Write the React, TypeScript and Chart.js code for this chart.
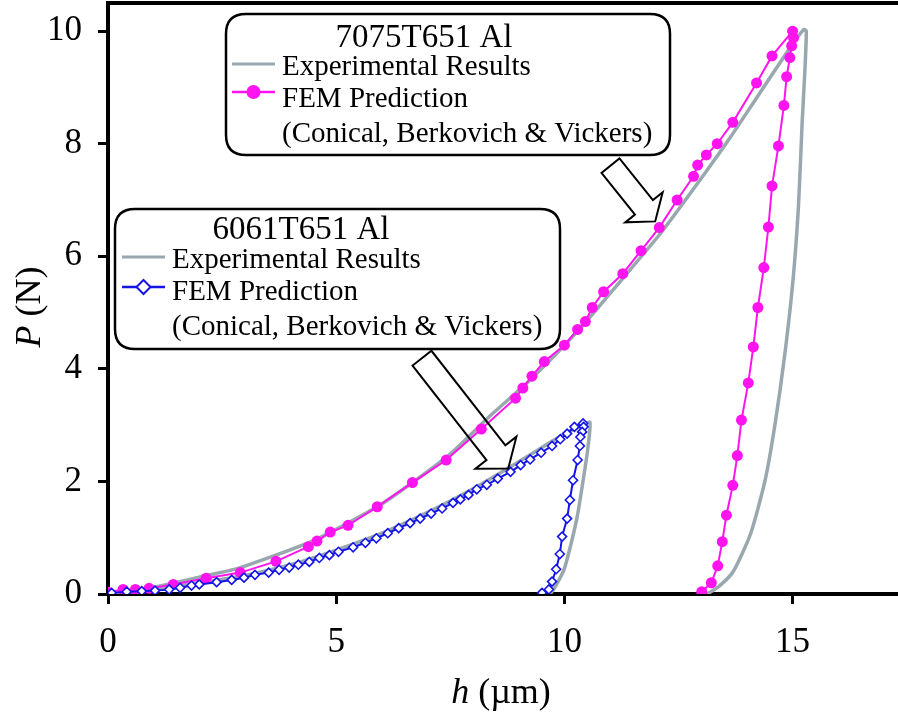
import React, { useEffect, useRef } from 'react';
import { Chart, registerables } from 'chart.js';

Chart.register(...registerables);

const FONT = '"Liberation Serif", "Times New Roman", serif';
const W = 898;
const H = 719;

// ---------- data: [h (µm), P (N)] ----------
const fem7075Load: number[][] = [
  [0, 0.03], [0.33, 0.08], [0.6, 0.08], [0.9, 0.1], [1.43, 0.17], [2.15, 0.28], [2.9, 0.38],
  [3.68, 0.58], [4.39, 0.84], [4.58, 0.94], [4.87, 1.1], [5.26, 1.22], [5.9, 1.55], [6.67, 1.98],
  [7.41, 2.38], [8.18, 2.93], [8.93, 3.48], [9.09, 3.66], [9.29, 3.87], [9.56, 4.13], [10.0, 4.42],
  [10.29, 4.7], [10.46, 4.84], [10.61, 5.09], [10.86, 5.37], [11.28, 5.69], [11.68, 6.1],
  [12.08, 6.51], [12.47, 7.0], [12.83, 7.42], [12.92, 7.62], [13.11, 7.8], [13.35, 8.0],
  [13.69, 8.38], [14.21, 9.08], [14.55, 9.56], [15.0, 10.0],
];
const fem7075Unload: number[][] = [
  [15.02, 9.88], [14.98, 9.74], [14.94, 9.53], [14.87, 9.19], [14.81, 8.68], [14.69, 7.96],
  [14.55, 7.25], [14.47, 6.52], [14.37, 5.8], [14.24, 5.09], [14.14, 4.39], [14.03, 3.75],
  [13.88, 3.09], [13.79, 2.46], [13.69, 1.93], [13.55, 1.4], [13.46, 0.93], [13.36, 0.5],
  [13.22, 0.2], [13.01, 0.04],
];
const exp7075Load: number[][] = [
  [0, 0], [1, 0.12], [2, 0.3], [2.9, 0.47], [4.5, 0.95], [5.96, 1.58], [7.43, 2.44], [8.38, 3.17],
  [9.25, 3.8], [10.35, 4.72], [11.23, 5.56], [12.1, 6.4], [12.94, 7.32], [13.6, 8.07],
  [14.2, 8.8], [14.75, 9.47], [15.1, 9.88], [15.25, 10.03],
];
const exp7075Unload: number[][] = [
  [15.3, 10.0], [15.27, 9.3], [15.21, 8.38], [15.13, 6.9], [15.01, 5.58], [14.83, 4.26],
  [14.61, 2.99], [14.39, 1.99], [14.08, 1.07], [13.7, 0.4], [13.38, 0.13], [13.13, 0.0],
];
const fem6061Load: number[][] = [
  [0.08, 0.02], [0.41, 0.04], [0.74, 0.05], [1.03, 0.06], [1.34, 0.08], [1.58, 0.11], [1.83, 0.15],
  [2.0, 0.17], [2.38, 0.21], [2.71, 0.25], [2.98, 0.29], [3.22, 0.34], [3.52, 0.38], [3.75, 0.43],
  [3.97, 0.47], [4.17, 0.52], [4.41, 0.57], [4.63, 0.64], [4.85, 0.69], [5.05, 0.75], [5.37, 0.83],
  [5.64, 0.91], [5.88, 0.99], [6.13, 1.08], [6.37, 1.17], [6.62, 1.26], [6.84, 1.34], [7.08, 1.43],
  [7.32, 1.52], [7.56, 1.62], [7.72, 1.68], [7.9, 1.76], [8.08, 1.86], [8.3, 1.94], [8.54, 2.05],
  [8.82, 2.17], [9.04, 2.29], [9.25, 2.39], [9.49, 2.51], [9.73, 2.63], [9.91, 2.75], [10.06, 2.85],
  [10.22, 2.97], [10.41, 3.03],
];
const fem6061Unload: number[][] = [
  [10.42, 2.97], [10.39, 2.88], [10.35, 2.79], [10.34, 2.63], [10.29, 2.38], [10.19, 2.02],
  [10.12, 1.67], [10.06, 1.34], [9.95, 1.02], [9.9, 0.71], [9.82, 0.44], [9.73, 0.22],
  [9.66, 0.08], [9.51, 0.02],
];
const exp6061Load: number[][] = [
  [0, 0], [1, 0.08], [2, 0.2], [3, 0.33], [4, 0.52], [5, 0.78], [6, 1.08], [7, 1.45], [8, 1.87],
  [9, 2.35], [9.5, 2.6], [10, 2.84], [10.4, 3.0], [10.56, 3.05],
];
const exp6061Unload: number[][] = [
  [10.51, 2.56], [10.39, 1.91], [10.28, 1.37], [10.13, 0.84], [9.99, 0.43], [9.8, 0.13], [9.69, 0.0],
];

const xTickStep = 5;
const yTickStep = 2;
const xMax = 17.31;
const yMax = 10.5;

// arrows in data units: tail centre -> tip
const arrowTails: number[][] = [[11.01, 7.61], [6.88, 4.19]];
const arrowTips: number[][] = [[11.99, 6.62], [8.77, 2.23]];

const GREY = '#98a8ae';
const MAGENTA = '#ff14f0';
const BLUE = '#1414e6';

const toXY = (pairs: number[][]) => pairs.map(([x, y]) => ({ x, y }));

const legendBoxes = [
  {
    x: 226, y: 14, w: 444, h: 141, title: '7075T651 Al', titleX: 424, titleY: 47,
    textX: 282, base: [75, 107, 142], sx0: 232, sx1: 275, sy: [64, 92], exp: 3, fem: 1,
  },
  {
    x: 115, y: 209, w: 445, h: 140, title: '6061T651 Al', titleX: 301, titleY: 239,
    textX: 172, base: [268, 300, 335], sx0: 122, sx1: 165, sy: [257, 287], exp: 2, fem: 0,
  },
];

function roundRect(ctx: CanvasRenderingContext2D, x: number, y: number, w: number, h: number, r: number) {
  ctx.beginPath();
  ctx.moveTo(x + r, y);
  ctx.lineTo(x + w - r, y);
  ctx.quadraticCurveTo(x + w, y, x + w, y + r);
  ctx.lineTo(x + w, y + h - r);
  ctx.quadraticCurveTo(x + w, y + h, x + w - r, y + h);
  ctx.lineTo(x + r, y + h);
  ctx.quadraticCurveTo(x, y + h, x, y + h - r);
  ctx.lineTo(x, y + r);
  ctx.quadraticCurveTo(x, y, x + r, y);
  ctx.closePath();
}

// force the plot rectangle to the reference's placement
const areaPlugin = {
  id: 'areaFix',
  afterLayout(chart: any) {
    const ca = chart.chartArea;
    ca.left = 108;
    ca.top = 3;
    ca.right = W;
    ca.bottom = 594;
    ca.width = ca.right - ca.left;
    ca.height = ca.bottom - ca.top;
    const xs = chart.scales.x;
    const ys = chart.scales.y;
    xs.left = ca.left; xs.right = ca.right; xs.width = ca.width;
    xs.top = ca.bottom; xs.bottom = H; xs.height = H - ca.bottom;
    ys.top = ca.top; ys.bottom = ca.bottom; ys.height = ca.height;
    ys.left = 0; ys.right = ca.left; ys.width = ca.left;
    xs.configure();
    ys.configure();
  },
};

const decorPlugin = {
  id: 'decor',
  afterDatasetsDraw(chart: any) {
    const ctx: CanvasRenderingContext2D = chart.ctx;
    const xs = chart.scales.x;
    const ys = chart.scales.y;
    const area = chart.chartArea;
    ctx.save();
    // top frame line
    ctx.strokeStyle = '#000';
    ctx.lineWidth = 4;
    ctx.beginPath();
    ctx.moveTo(area.left - 2, area.top);
    ctx.lineTo(area.right, area.top);
    ctx.stroke();

    // arrows
    const specs = [
      { shaft: 23, headW: 48, headL: 18 },
      { shaft: 24, headW: 52, headL: 20 },
    ];
    arrowTails.forEach((t, i) => {
      const tip = arrowTips[i];
      const ax = xs.getPixelForValue(t[0]);
      const ay = ys.getPixelForValue(t[1]);
      const bx = xs.getPixelForValue(tip[0]);
      const by = ys.getPixelForValue(tip[1]);
      const len = Math.hypot(bx - ax, by - ay);
      const dx = (bx - ax) / len;
      const dy = (by - ay) / len;
      const nx = -dy;
      const ny = dx;
      const { shaft, headW, headL } = specs[i];
      const cx = bx - dx * headL;
      const cy = by - dy * headL;
      const pts = [
        [ax + nx * shaft / 2, ay + ny * shaft / 2],
        [cx + nx * shaft / 2, cy + ny * shaft / 2],
        [cx + nx * headW / 2, cy + ny * headW / 2],
        [bx, by],
        [cx - nx * headW / 2, cy - ny * headW / 2],
        [cx - nx * shaft / 2, cy - ny * shaft / 2],
        [ax - nx * shaft / 2, ay - ny * shaft / 2],
      ];
      ctx.beginPath();
      pts.forEach((p, k) => (k === 0 ? ctx.moveTo(p[0], p[1]) : ctx.lineTo(p[0], p[1])));
      ctx.closePath();
      ctx.lineWidth = 2;
      ctx.lineJoin = 'miter';
      ctx.strokeStyle = '#000';
      ctx.stroke();
    });

    // legend boxes
    legendBoxes.forEach((b) => {
      roundRect(ctx, b.x, b.y, b.w, b.h, 20);
      ctx.fillStyle = '#fff';
      ctx.fill();
      ctx.lineWidth = 2.5;
      ctx.strokeStyle = '#000';
      ctx.stroke();

      ctx.fillStyle = '#000';
      ctx.textBaseline = 'alphabetic';
      ctx.textAlign = 'center';
      ctx.font = `33px ${FONT}`;
      ctx.fillText(b.title, b.titleX, b.titleY);
      ctx.textAlign = 'left';
      ctx.font = `29px ${FONT}`;
      const expDs = chart.data.datasets[b.exp];
      const femDs = chart.data.datasets[b.fem];
      ctx.fillText(expDs.label, b.textX, b.base[0]);
      ctx.fillText(femDs.label, b.textX, b.base[1]);
      ctx.fillText('(Conical, Berkovich & Vickers)', b.textX, b.base[2]);

      // samples
      ctx.strokeStyle = expDs.borderColor;
      ctx.lineWidth = 3;
      ctx.beginPath();
      ctx.moveTo(b.sx0, b.sy[0]);
      ctx.lineTo(b.sx1, b.sy[0]);
      ctx.stroke();
      ctx.strokeStyle = femDs.borderColor;
      ctx.lineWidth = 2.5;
      ctx.beginPath();
      ctx.moveTo(b.sx0, b.sy[1]);
      ctx.lineTo(b.sx1, b.sy[1]);
      ctx.stroke();
      const mx = (b.sx0 + b.sx1) / 2;
      const my = b.sy[1];
      if (femDs.pointStyle === 'rectRot') {
        ctx.beginPath();
        ctx.moveTo(mx, my - 7);
        ctx.lineTo(mx + 7, my);
        ctx.lineTo(mx, my + 7);
        ctx.lineTo(mx - 7, my);
        ctx.closePath();
        ctx.fillStyle = '#fff';
        ctx.fill();
        ctx.lineWidth = 2;
        ctx.stroke();
      } else {
        ctx.beginPath();
        ctx.arc(mx, my, 7, 0, Math.PI * 2);
        ctx.fillStyle = femDs.borderColor;
        ctx.fill();
      }
    });

    // axis titles (mixed italic / upright)
    ctx.fillStyle = '#000';
    ctx.textBaseline = 'alphabetic';
    ctx.textAlign = 'left';
    const italic = `italic 36px ${FONT}`;
    const upright = `36px ${FONT}`;
    ctx.font = italic;
    const wh = ctx.measureText('h').width;
    ctx.font = upright;
    const wrest = ctx.measureText(' (\u00b5m)').width;
    const xStart = 501 - (wh + wrest) / 2;
    ctx.font = italic;
    ctx.fillText('h', xStart, 703);
    ctx.font = upright;
    ctx.fillText(' (\u00b5m)', xStart + wh, 703);

    ctx.translate(40, 307);
    ctx.rotate(-Math.PI / 2);
    ctx.font = italic;
    const wp = ctx.measureText('P').width;
    ctx.font = upright;
    const wn = ctx.measureText(' (N)').width;
    const ys0 = -(wp + wn) / 2;
    ctx.font = italic;
    ctx.fillText('P', ys0, 0);
    ctx.font = upright;
    ctx.fillText(' (N)', ys0 + wp, 0);
    ctx.restore();
  },
};

export default function App() {
  const canvasRef = useRef<HTMLCanvasElement | null>(null);

  useEffect(() => {
    const canvas = canvasRef.current;
    if (!canvas) return;
    const chart = new Chart(canvas, {
      type: 'scatter',
      data: {
        datasets: [
          {
            label: 'FEM Prediction',
            data: toXY([...fem6061Load, ...fem6061Unload]),
            showLine: true,
            borderColor: BLUE,
            borderWidth: 2,
            pointStyle: 'rectRot',
            pointRadius: 4.5,
            pointBorderWidth: 1.6,
            pointBackgroundColor: '#fff',
            pointBorderColor: BLUE,
          } as any,
          {
            label: 'FEM Prediction',
            data: toXY([...fem7075Load, ...fem7075Unload]),
            showLine: true,
            borderColor: MAGENTA,
            borderWidth: 2,
            pointStyle: 'circle',
            pointRadius: 5.5,
            pointBorderWidth: 0,
            pointBackgroundColor: MAGENTA,
            pointBorderColor: MAGENTA,
          } as any,
          {
            label: 'Experimental Results',
            data: toXY([...exp6061Load, ...exp6061Unload]),
            showLine: true,
            borderColor: GREY,
            borderWidth: 3.5,
            pointRadius: 0,
            tension: 0.2,
          } as any,
          {
            label: 'Experimental Results',
            data: toXY([...exp7075Load, ...exp7075Unload]),
            showLine: true,
            borderColor: GREY,
            borderWidth: 3.5,
            pointRadius: 0,
            tension: 0.2,
          } as any,
        ],
      },
      options: {
        responsive: false,
        animation: false,
        devicePixelRatio: 1,
        layout: { padding: { top: 3, right: 0, left: 0, bottom: 0 } },
        plugins: { legend: { display: false }, tooltip: { enabled: false }, title: { display: false } },
        scales: {
          x: {
            type: 'linear',
            min: 0,
            max: xMax,
            afterFit: (s: any) => {
              s.height = H - 594;
              s.paddingLeft = 0;
              s.paddingRight = 0;
            },
            border: { display: true, color: '#000', width: 4 },
            grid: {
              display: true, drawOnChartArea: false, drawTicks: true, tickLength: 10,
              tickWidth: 3, tickColor: '#000', color: '#000',
            },
            ticks: {
              stepSize: xTickStep, includeBounds: false, color: '#000', padding: 18,
              font: { family: FONT, size: 35 }, maxRotation: 0,
            },
          },
          y: {
            type: 'linear',
            min: 0,
            max: yMax,
            afterFit: (s: any) => {
              s.width = 108;
              s.paddingTop = 0;
              s.paddingBottom = 0;
            },
            border: { display: true, color: '#000', width: 4 },
            grid: {
              display: true, drawOnChartArea: false, drawTicks: true, tickLength: 10,
              tickWidth: 3, tickColor: '#000', color: '#000',
            },
            ticks: {
              stepSize: yTickStep, includeBounds: false, color: '#000', padding: 16,
              font: { family: FONT, size: 35 },
            },
          },
        },
      } as any,
      plugins: [areaPlugin, decorPlugin],
    });
    return () => chart.destroy();
  }, []);

  return (
    <div style={{ position: 'absolute', left: 0, top: 0, width: W, height: H, background: '#fff' }}>
      <canvas ref={canvasRef} width={W} height={H} style={{ width: W, height: H, display: 'block' }} />
    </div>
  );
}
